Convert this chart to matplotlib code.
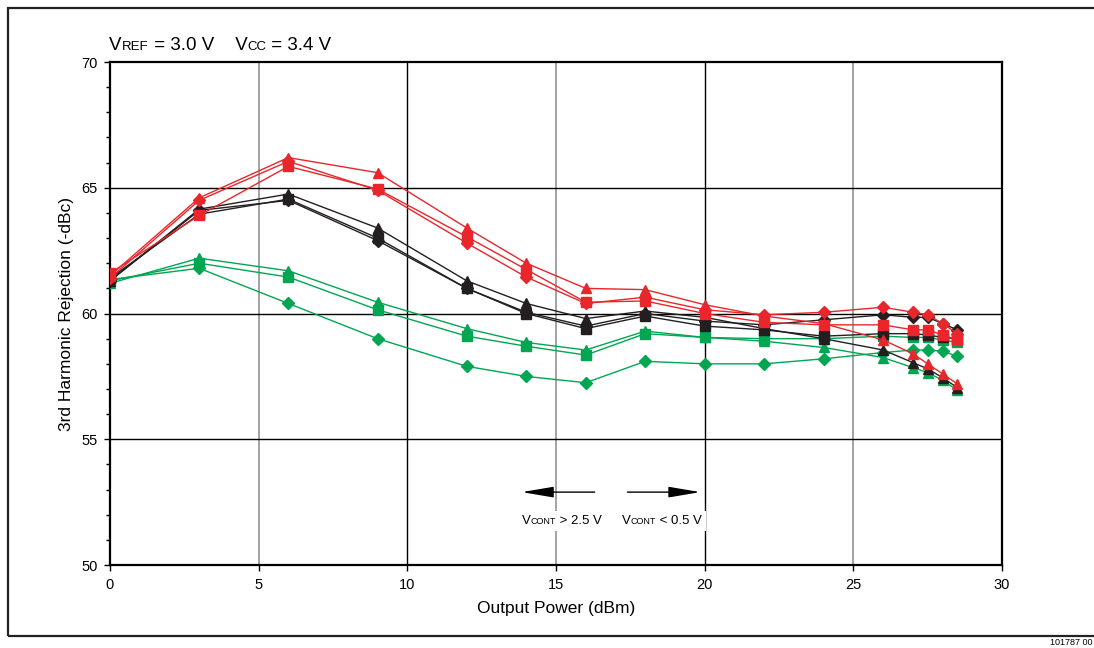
import matplotlib
matplotlib.use("Agg")
import matplotlib.pyplot as plt
from matplotlib.patches import Rectangle
from matplotlib.offsetbox import TextArea, HPacker, AnchoredOffsetbox, AnnotationBbox

plt.rcParams['font.family'] = ['Liberation Sans Narrow', 'Liberation Sans', 'DejaVu Sans']

# output power (dBm)
x = [0, 3, 6, 9, 12, 14, 16, 18, 20, 22, 24, 26, 27, 27.5, 28, 28.5]

# 3rd harmonic rejection (-dBc)
red_tri = [61.5, 64.6, 66.2, 65.6, 63.4, 62.0, 61.0, 60.95, 60.35, 59.9, 59.6, 58.95, 58.4, 58.0, 57.6, 57.2]
red_sq = [61.6, 63.9, 65.85, 64.95, 63.05, 61.75, 60.45, 60.5, 60.0, 59.65, 59.55, 59.55, 59.35, 59.35, 59.15, 58.95]
red_dia = [61.4, 64.5, 66.05, 64.9, 62.8, 61.45, 60.4, 60.65, 60.15, 59.95, 60.05, 60.25, 60.05, 59.95, 59.6, 59.2]

blk_tri = [61.3, 64.15, 64.75, 63.4, 61.3, 60.4, 59.8, 60.1, 59.85, 59.4, 59.0, 58.55, 58.05, 57.8, 57.45, 57.05]
blk_sq = [61.4, 63.95, 64.55, 63.0, 61.0, 60.0, 59.4, 59.9, 59.5, 59.35, 59.1, 59.2, 59.2, 59.15, 59.05, 59.0]
blk_dia = [61.3, 64.1, 64.5, 62.9, 61.0, 60.05, 59.5, 60.0, 59.7, 59.55, 59.75, 59.95, 59.85, 59.85, 59.6, 59.35]

grn_tri = [61.2, 62.2, 61.7, 60.45, 59.4, 58.85, 58.55, 59.3, 59.05, 58.9, 58.65, 58.25, 57.85, 57.65, 57.35, 56.95]
grn_sq = [61.3, 62.0, 61.45, 60.15, 59.1, 58.7, 58.35, 59.2, 59.05, 59.0, 59.0, 59.1, 59.05, 59.05, 58.95, 58.85]
grn_dia = [61.35, 61.8, 60.4, 59.0, 57.9, 57.5, 57.25, 58.1, 58.0, 58.0, 58.2, 58.45, 58.55, 58.55, 58.5, 58.3]

RED = '#e8262b'
BLK = '#231f20'
GRN = '#00a651'

fig = plt.figure(figsize=(10.94, 6.48), dpi=100)
ax = fig.add_axes([0.1005, 0.128, 0.8155, 0.7763])

# grid: odd multiples of 5 grey, even black
for gx in [5, 15, 25]:
    ax.axvline(gx, color='#8a8a8a', lw=1.1, zorder=1)
for gx in [10, 20]:
    ax.axvline(gx, color='k', lw=1.0, zorder=1)
for gy in [55, 60, 65]:
    ax.axhline(gy, color='k', lw=1.0, zorder=1)

series = [
    (grn_dia, GRN, 'D', 5.8), (grn_sq, GRN, 's', 7), (grn_tri, GRN, '^', 7.5),
    (blk_dia, BLK, 'D', 5.8), (blk_sq, BLK, 's', 7), (blk_tri, BLK, '^', 7.5),
    (red_dia, RED, 'D', 5.8), (red_sq, RED, 's', 7), (red_tri, RED, '^', 7.5),
]
for y, c, m, ms in series:
    ax.plot(x, y, color=c, lw=1.0, marker=m, ms=ms, mec=c, mfc=c, zorder=3)

ax.set_xlim(0, 30)
ax.set_ylim(50, 70)
ax.set_xticks([0, 5, 10, 15, 20, 25, 30])
ax.set_yticks([50, 55, 60, 65, 70])
ax.set_yticks(range(50, 71), minor=True)
ax.tick_params(axis='both', which='major', direction='out', length=4, width=1, labelsize=10.5, pad=5)
ax.tick_params(axis='y', which='minor', direction='out', length=3, width=1)
for s in ax.spines.values():
    s.set_linewidth(1.6)

ax.set_xlabel('Output Power (dBm)', fontsize=12.5, labelpad=7)
ax.set_ylabel('3rd Harmonic Rejection (-dBc)', fontsize=12.5, labelpad=5)


def smallcaps(parts, big, small):
    boxes = []
    for txt, is_small in parts:
        boxes.append(TextArea(txt, textprops=dict(fontsize=small if is_small else big, color='k')))
    return HPacker(children=boxes, align='baseline', pad=0, sep=0)


title = smallcaps([('V', 0), ('REF', 1), (' = 3.0 V    V', 0), ('CC', 1), (' = 3.4 V', 0)], 13.5, 9.5)
fig.add_artist(AnchoredOffsetbox(loc='lower left', child=title, bbox_to_anchor=(0.1, 0.917),
                                 bbox_transform=fig.transFigure, frameon=False, pad=0, borderpad=0))

# Vcont arrows
arrow = dict(arrowstyle='-|>,head_length=1.3,head_width=0.22', color='k', lw=1.0,
             mutation_scale=15, shrinkA=0, shrinkB=0)
ax.annotate('', xy=(13.85, 52.9), xytext=(16.3, 52.9), arrowprops=arrow, zorder=4)
ax.annotate('', xy=(19.85, 52.9), xytext=(17.4, 52.9), arrowprops=arrow, zorder=4)

for lbl, xc in [(' > 2.5 V', 15.2), (' < 0.5 V', 18.55)]:
    box = smallcaps([('V', 0), ('CONT', 1), (lbl, 0)], 9.5, 6.5)
    ab = AnnotationBbox(box, (xc, 51.75), xycoords='data', frameon=True, pad=0.3,
                        bboxprops=dict(fc='w', ec='none'), box_alignment=(0.5, 0.5), zorder=4)
    ax.add_artist(ab)

# outer frame
fig.add_artist(Rectangle((0.0073, 0.0185), 1.05, 0.969, transform=fig.transFigure,
                         fill=False, ec='#222222', lw=1.6, clip_on=False))
fig.text(0.999, 0.008, '101787 00', ha='right', va='center', fontsize=6.5)

fig.savefig('out.png', dpi=100)
